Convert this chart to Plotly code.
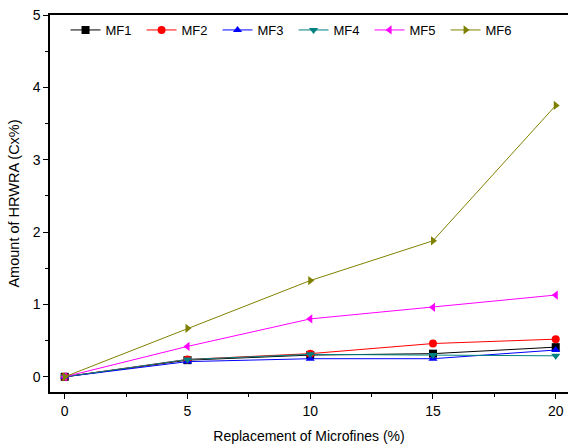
import plotly.graph_objects as go

x_vals = [0, 5, 10, 15, 20]
series_names = ["MF1", "MF2", "MF3", "MF4", "MF5", "MF6"]
mf1 = [0.0, 0.23, 0.30, 0.32, 0.41]
mf2 = [0.0, 0.24, 0.32, 0.46, 0.52]
mf3 = [0.0, 0.21, 0.25, 0.25, 0.37]
mf4 = [0.0, 0.24, 0.31, 0.30, 0.29]
mf5 = [0.0, 0.42, 0.80, 0.96, 1.13]
mf6 = [0.0, 0.67, 1.33, 1.88, 3.75]
x_ticks = [0, 5, 10, 15, 20]
y_ticks = [0, 1, 2, 3, 4, 5]

colors = ["#000000", "#ff0000", "#0000ff", "#008080", "#ff00ff", "#808000"]
symbols = ["square", "circle", "triangle-up", "triangle-down", "triangle-left", "triangle-right"]

fig = go.Figure()
for name, ys, c, s in zip(series_names, [mf1, mf2, mf3, mf4, mf5, mf6], colors, symbols):
    fig.add_trace(go.Scatter(x=x_vals, y=ys, name=name, mode="lines+markers",
                             line=dict(color=c, width=1), cliponaxis=False,
                             marker=dict(symbol=s, size=8, color=c)))

font = "Liberation Sans, Arial, sans-serif"
fig.update_layout(
    width=568, height=448,
    margin=dict(l=50, r=0, t=15, b=56),
    plot_bgcolor="white", paper_bgcolor="white",
    font=dict(family=font, size=12, color="black"),
    showlegend=True,
    legend=dict(orientation="h", x=0.03, y=1.0, xanchor="left", yanchor="top",
                entrywidth=31, entrywidthmode="pixels",
                font=dict(size=13), bgcolor="rgba(0,0,0,0)"),
    xaxis=dict(range=[-0.6, 20.5], tickvals=x_ticks, showgrid=False, zeroline=False,
               showline=True, linecolor="black", linewidth=1.5, mirror=True,
               ticks="outside", ticklen=5, tickcolor="black",
               minor=dict(dtick=2.5, tick0=0, ticks="outside", ticklen=3, tickcolor="black"),
               title=dict(text="Replacement of Microfines (%)", standoff=14, font=dict(size=14)),
               tickfont=dict(size=14)),
    yaxis=dict(range=[-0.21, 5], tickvals=y_ticks, showgrid=False, zeroline=False,
               showline=True, linecolor="black", linewidth=1.5,
               ticks="outside", ticklen=5, tickcolor="black",
               minor=dict(dtick=0.5, tick0=0, ticks="outside", ticklen=3, tickcolor="black"),
               title=dict(text="Amount of HRWRA (Cx%)", standoff=10, font=dict(size=14.5)),
               tickfont=dict(size=14)),
)
fig.write_html("out.html", config={"displayModeBar": False},
               post_script="document.body.style.margin='0';")
